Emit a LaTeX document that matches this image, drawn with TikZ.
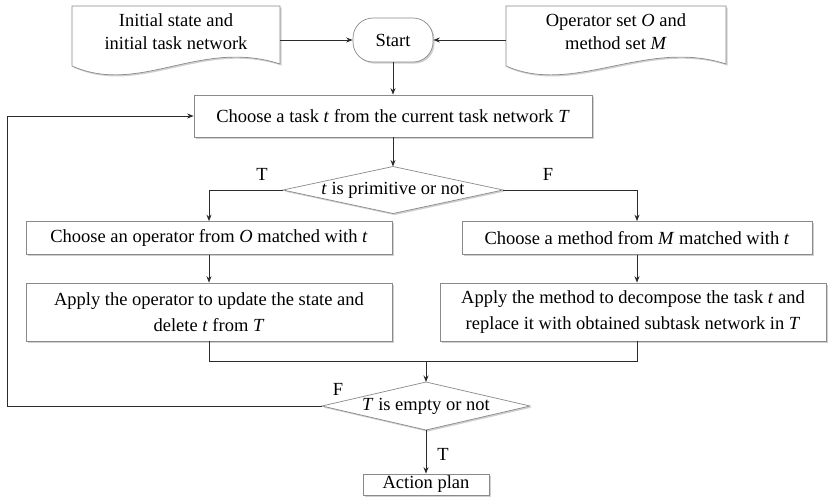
\documentclass[tikz,border=0pt]{standalone}
\usepackage{fontspec}
\setmainfont{Liberation Serif}
\usetikzlibrary{arrows.meta,shadows,calc}
\definecolor{bordergray}{HTML}{8A8A8A}
\definecolor{linedark}{HTML}{2B2B2B}
\begin{document}
\begin{tikzpicture}[x=1pt,y=-1pt,
  font=\fontsize{18.5}{26}\selectfont,
  shad/.style={drop shadow={shadow xshift=1.6pt, shadow yshift=-1.6pt, opacity=0.3, fill=black!60}},
  box/.style={draw=bordergray, line width=0.7pt, fill=white, shad, inner sep=0pt, align=center},
  conn/.style={draw=linedark, line width=0.9pt},
  arr/.style={conn, -{Stealth[length=6.5pt,width=5pt]}},
  lbl/.style={inner sep=0pt, align=center},
  doctext/.style={lbl, font=\fontsize{18.5}{23}\selectfont}]
\useasboundingbox (0,0) rectangle (828,499);
\fill[white] (0,0) rectangle (828,499);

% document shapes
\path[draw=bordergray, line width=0.7pt, fill=white, shad] (72,6) -- (280,6) -- (280,64) .. controls (200,38) and (140,96) .. (72,66) -- cycle;
\node[doctext] (doc1) at (176,32) {Initial state and\\initial task network};
\coordinate (doc1e) at (280,40);

\path[draw=bordergray, line width=0.7pt, fill=white, shad] (506,6) -- (726,6) -- (726,64) .. controls (646,38) and (574,96) .. (506,66) -- cycle;
\node[doctext] (doc2) at (616,32) {Operator set \textit{O} and\\method set \textit{M}};
\coordinate (doc2w) at (506,40);

% start
\node[box, minimum width=80pt, minimum height=44pt, rounded corners=20pt] (start) at (393,40) {Start};

% choose task
\node[box, minimum width=398pt, minimum height=42pt] (choose) at (393,116) {Choose a task \textit{t} from the current task network \textit{T}};

% diamond 1
\path[draw=bordergray, line width=0.7pt, fill=white, shad] (283,190) -- (393,166.5) -- (503,190) -- (393,213.5) -- cycle;
\node[lbl] (prim) at (393,190) {\textit{t} is primitive or not};
\coordinate (primL) at (283,190);
\coordinate (primR) at (503,190);
\coordinate (primT) at (393,166.5);
\coordinate (primB) at (393,213.5);

% branch boxes
\node[box, minimum width=366pt, minimum height=33pt] (op) at (209,238) {Choose an operator from \textit{O} matched with \textit{t}};
\node[box, minimum width=350pt, minimum height=33pt] (me) at (637,238) {Choose a method from \textit{M} matched with \textit{t}};

\node[box, minimum width=366pt, minimum height=58pt] (apop) at (209,312) {Apply the operator to update the state and\\delete \textit{t} from \textit{T}};
\node[box, minimum width=386pt, minimum height=58pt] (apme) at (633,312) {Apply the method to decompose the task \textit{t} and\\replace it with obtained subtask network in \textit{T}};

% diamond 2
\path[draw=bordergray, line width=0.7pt, fill=white, shad] (322,406) -- (426,382) -- (530,406) -- (426,430) -- cycle;
\node[lbl] (empty) at (426,406) {\textit{T} is empty or not};
\coordinate (emptyL) at (322,406);
\coordinate (emptyT) at (426,382);
\coordinate (emptyB) at (426,430);
\coordinate (mj) at (426,361);

% action plan
\node[box, minimum width=126pt, minimum height=21pt] (plan) at (426,484.5) {Action plan};

% connectors
\draw[arr] (doc1e) -- (start.west);
\draw[arr] (doc2w) -- (start.east);
\draw[arr] (start.south) -- (choose.north);
\draw[arr] (choose.south) -- (primT);
\draw[arr] (primL) -| (op.north);
\draw[arr] (primR) -| (me.north);
\draw[arr] (op.south) -- (apop.north);
\draw[arr] (me.south) -- (me.south |- apme.north);
\draw[conn] (apop.south) |- (mj);
\draw[conn] (me.south |- apme.south) |- (mj);
\draw[arr] (mj) -- (emptyT);
\draw[arr] (emptyB) -- (plan.north);
\draw[arr] (emptyL) -- ++(-315,0) |- (choose.west);

% labels
\node[lbl] (lt1) at (262,174) {T};
\node[lbl] (lf1) at (548,174) {F};
\node[lbl] (lf2) at (338,389) {F};
\node[lbl] (lt2) at (443,454) {T};
\end{tikzpicture}
\end{document}
